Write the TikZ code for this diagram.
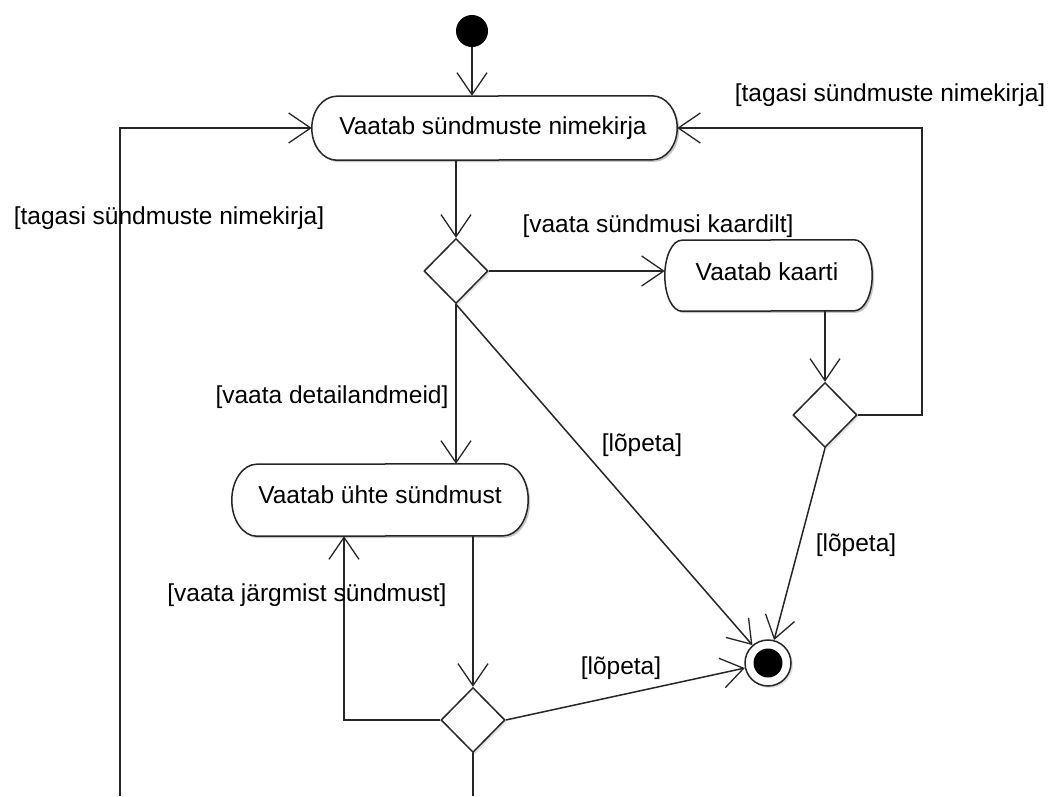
\documentclass[tikz,border=0pt]{standalone}
\usepackage{fontspec}
\setmainfont{Liberation Sans}
\usetikzlibrary{arrows.meta,shapes.geometric,shadows,calc,backgrounds}
\begin{document}
\begin{tikzpicture}[x=1pt,y=-1pt,
  every node/.style={font=\fontsize{24.5}{28}\selectfont},
  line/.style={line width=1.5pt, draw=black!85},
  arr/.style={line, -{Straight Barb[length=22pt,width=30pt,line width=1.3pt]}},
  actbox/.style={rectangle, draw=none, inner sep=0pt},
  actline/.style={draw=black!85, line width=1.5pt, fill=white},
  actshadow/.style={fill=black, opacity=0.22, draw=none, transform canvas={shift={(2pt,-2pt)}}},
  dec/.style={draw=black!85, line width=1.5pt, diamond, minimum width=64pt, minimum height=65pt, inner sep=0pt, fill=white,
    drop shadow={opacity=0.22, shadow xshift=2pt, shadow yshift=-2pt}},
  guard/.style={inner sep=1pt, fill=none}
]
\useasboundingbox (0,0) rectangle (1053,796);

% activity box geometry (outlines drawn on background layer)
\node[actbox, minimum width=365pt, minimum height=64pt] (b1) at (494.5,128) {};
\node[actbox, minimum width=207pt, minimum height=71pt] (b2) at (768.5,275.5) {};
\node[actbox, minimum width=296pt, minimum height=72pt] (b3) at (380,500) {};

\begin{pgfonlayer}{background}
\fill[white] (0,0) rectangle (1053,796);
% b1
\path[actshadow] ($(b1.north east)+(-25,0)$) arc[start angle=90,end angle=-90,x radius=25pt,y radius=32pt]
  -- ($(b1.south west)+(25,0)$) arc[start angle=270,end angle=90,x radius=25pt,y radius=32pt] -- cycle;
\path[actline] ($(b1.north east)+(-25,0)$) arc[start angle=90,end angle=-90,x radius=25pt,y radius=32pt]
  -- ($(b1.south west)+(25,0)$) arc[start angle=270,end angle=90,x radius=25pt,y radius=32pt] -- cycle;
% b2
\path[actshadow] ($(b2.north east)+(-18,0)$) arc[start angle=90,end angle=-90,x radius=18pt,y radius=35.5pt]
  -- ($(b2.south west)+(17,0)$) arc[start angle=270,end angle=90,x radius=17pt,y radius=35.5pt] -- cycle;
\path[actline] ($(b2.north east)+(-18,0)$) arc[start angle=90,end angle=-90,x radius=18pt,y radius=35.5pt]
  -- ($(b2.south west)+(17,0)$) arc[start angle=270,end angle=90,x radius=17pt,y radius=35.5pt] -- cycle;
% b3
\path[actshadow] ($(b3.north east)+(-25,0)$) arc[start angle=90,end angle=-90,x radius=25pt,y radius=36pt]
  -- ($(b3.south west)+(25,0)$) arc[start angle=270,end angle=90,x radius=25pt,y radius=36pt] -- cycle;
\path[actline] ($(b3.north east)+(-25,0)$) arc[start angle=90,end angle=-90,x radius=25pt,y radius=36pt]
  -- ($(b3.south west)+(25,0)$) arc[start angle=270,end angle=90,x radius=25pt,y radius=36pt] -- cycle;
\end{pgfonlayer}

\node (t1) at (493,128) {Vaatab sündmuste nimekirja};
\node (t2) at (767,272) {Vaatab kaarti};
\node (t3) at (380,495) {Vaatab ühte sündmust};

% other nodes
\node[circle, fill=black, minimum size=32pt, inner sep=0pt] (init) at (472,31) {};
\node[dec] (d1) at (456,271) {};
\node[dec] (d2) at (825,415) {};
\node[dec] (d3) at (473,720) {};
\node[circle, draw=black!85, line width=1.5pt, fill=white, minimum size=46pt, inner sep=0pt,
  drop shadow={opacity=0.22, shadow xshift=2pt, shadow yshift=-2pt}] (fin) at (768,663) {};
\node[circle, fill=black, minimum size=29pt, inner sep=0pt] (finin) at (fin) {};

\coordinate (lft) at (120,796);
\coordinate (rgt) at (922,415);
\coordinate (jn) at (344,720);
\coordinate (bot) at (473,796);

% connectors
\draw[arr] (init.south) -- (init.south |- b1.north);
\draw[arr] (lft) |- (b1.west);
\draw[arr] (d1 |- b1.south) -- (d1.north);
\draw[arr] (d1.east) -- (d1.east -| b2.west);
\draw[arr] (d2 |- b2.south) -- (d2.north);
\draw[arr] (d2.east) -- (rgt) -- (rgt |- b1.east) -- (b1.east);
\draw[arr] (d2.south) -- (fin);
\draw[arr] (d1.south) -- (fin);
\draw[arr] (d1.south) -- (d1.south |- b3.north);
\draw[arr] (d3 |- b3.south) -- (d3.north);
\draw[arr] (d3.west) -- (jn) -- (jn |- b3.south);
\draw[arr] (d3.east) -- (fin);
\draw[line] (d3.south) -- (bot);

% guards
\node[guard] (g1) at (169,218) {[tagasi sündmuste nimekirja]};
\node[guard] (g2) at (890,95) {[tagasi sündmuste nimekirja]};
\node[guard] (g3) at (658,226) {[vaata sündmusi kaardilt]};
\node[guard] (g4) at (332,397) {[vaata detailandmeid]};
\node[guard] (g5) at (642,445) {[lõpeta]};
\node[guard] (g6) at (856,545) {[lõpeta]};
\node[guard] (g7) at (307,595) {[vaata järgmist sündmust]};
\node[guard] (g8) at (621,668) {[lõpeta]};
\end{tikzpicture}
\end{document}
